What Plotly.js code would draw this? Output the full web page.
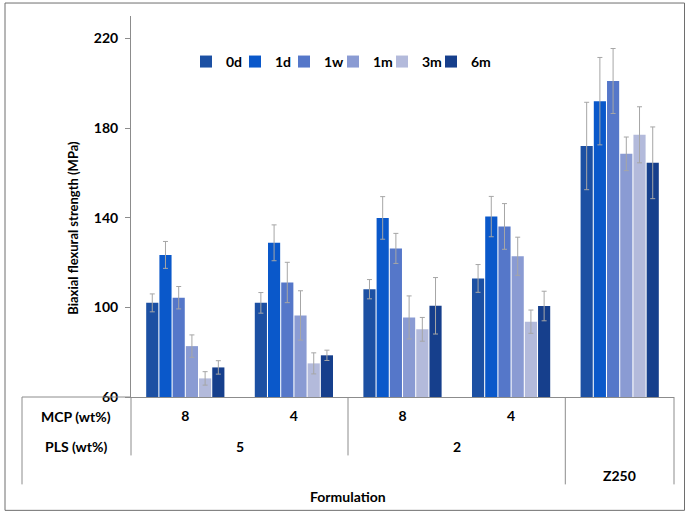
<!DOCTYPE html>
<html>
<head>
<meta charset="utf-8">
<script src="https://cdn.plot.ly/plotly-3.0.1.min.js"></script>
<style>html,body{margin:0;padding:0;background:#fff;}#chart{width:688px;height:516px;}</style>
</head>
<body>
<div id="chart"></div>
<script>
// ---- data ----
var categories = ['8 / 5', '4 / 5', '8 / 2', '4 / 2', 'Z250'];
var mcpLabels = ['8', '4', '8', '4', ''];
var plsLabels = ['5', '2'];
var seriesNames = ['0d', '1d', '1w', '1m', '3m', '6m'];
var v0d = [102.0, 102.0, 108.1, 112.9, 172.0];
var v1d = [123.4, 128.8, 139.9, 140.5, 192.0];
var v1w = [104.3, 111.1, 126.3, 136.1, 201.0];
var v1m = [82.7, 96.4, 95.5, 122.8, 168.5];
var v3m = [68.3, 75.0, 90.2, 93.6, 177.0];
var v6m = [73.2, 78.6, 100.7, 100.6, 164.5];
var e0d = [4.0, 4.6, 4.3, 6.2, 19.5];
var e1d = [6.0, 8.0, 9.5, 9.0, 19.5];
var e1w = [5.0, 9.0, 6.7, 10.2, 14.5];
var e1m = [5.0, 11.0, 9.6, 8.5, 7.5];
var e3m = [3.0, 4.7, 5.3, 5.2, 12.5];
var e6m = [3.0, 2.3, 12.6, 6.6, 16.0];
var yTicks = [60, 100, 140, 180, 220];

var values = [v0d, v1d, v1w, v1m, v3m, v6m];
var errors = [e0d, e1d, e1w, e1m, e3m, e6m];
var colors = ['#1C50A3', '#0A58CA', '#5577C9', '#8A9BD3', '#B3BADB', '#163F8C'];

var FONT = 'Lato, "Open Sans", "Liberation Sans", sans-serif';

function legendId(i) { return i === 0 ? 'legend' : 'legend' + (i + 1); }

var traces = seriesNames.map(function (name, i) {
  return {
    type: 'bar',
    name: name,
    x: categories,
    y: values[i].map(function (v) { return v - 60; }),
    base: 60,
    marker: { color: colors[i] },
    error_y: { type: 'data', array: errors[i], visible: true, color: '#A6A6A6', thickness: 1, width: 2.5 },
    legend: legendId(i),
    hoverinfo: 'name+y'
  };
});

// pixel helpers for the table frame (paper coords)
var L = 131, R = 674, T = 16, B = 397.5;
function px(x) { return (x - L) / (R - L); }
function py(y) { return (B - y) / (B - T); }

var lineStyle = { color: '#8C8C8C', width: 1 };
function seg(x0, y0, x1, y1, st) {
  return { type: 'line', xref: 'paper', yref: 'paper', x0: px(x0), y0: py(y0), x1: px(x1), y1: py(y1), line: st || lineStyle };
}

var shapes = [
  seg(22, B, 131, B),
  seg(22, B, 22, 485),
  seg(131, B, 131, 456),
  seg(348, B, 348, 456),
  seg(565.3, B, 565.3, 485),
  seg(674, B, 674, 485),
  { type: 'rect', xref: 'paper', yref: 'paper', x0: px(5), y0: py(3), x1: px(684.5), y1: py(511), line: { color: '#6E6E6E', width: 1 }, fillcolor: 'rgba(0,0,0,0)' }
];

function ann(text, x, y, extra) {
  var a = { text: text, xref: 'paper', yref: 'paper', x: px(x), y: py(y), xanchor: 'center', yanchor: 'middle', showarrow: false, font: { family: FONT, size: 14, color: '#000', weight: 'bold' } };
  for (var k in extra) a[k] = extra[k];
  return a;
}

var annotations = [
  ann('MCP (wt%)', 76, 417),
  ann('PLS (wt%)', 76, 447),
  ann(plsLabels[0], 239.6, 447),
  ann(plsLabels[1], 456.8, 447),
  ann(categories[4], 619.7, 476),
  ann('Formulation', 348, 497),
  ann('Biaxial flexural strength (MPa)', 73, 228, { textangle: -90, font: { family: FONT, size: 13, color: '#000', weight: 'bold' } })
];

var legX = 186, legStep = 49;
var legFont = { family: FONT, size: 14, color: '#000', weight: 'bold' };

var layout = {
  width: 688, height: 516,
  margin: { l: L, r: 688 - R, t: T, b: 516 - B },
  paper_bgcolor: '#fff', plot_bgcolor: '#fff',
  barmode: 'group', bargap: 0.27, bargroupgap: 0.08,
  font: { family: FONT, size: 14, color: '#000' },
  showlegend: true,
  xaxis: {
    type: 'category', categoryorder: 'array', categoryarray: categories,
    tickvals: categories, ticktext: mcpLabels,
    showline: true, linecolor: '#8C8C8C', linewidth: 1,
    ticks: '', showgrid: false, zeroline: false, fixedrange: true,
    ticklabelstandoff: 6,
    tickfont: { family: FONT, size: 14, color: '#000', weight: 'bold' }
  },
  yaxis: {
    range: [60, 230], tickvals: yTicks, ticktext: yTicks.map(String),
    showline: true, linecolor: '#8C8C8C', linewidth: 1,
    ticks: 'outside', ticklen: 5, tickcolor: '#8C8C8C',
    showgrid: false, zeroline: false, fixedrange: true,
    ticklabelstandoff: 4,
    tickfont: { family: FONT, size: 14, color: '#000', weight: 'bold' }
  },
  shapes: shapes,
  annotations: annotations
};

seriesNames.forEach(function (name, i) {
  layout[legendId(i)] = {
    orientation: 'h', x: px(legX + i * legStep), xanchor: 'left', y: py(62), yanchor: 'middle',
    font: legFont, bgcolor: 'rgba(0,0,0,0)'
  };
});

Plotly.newPlot('chart', traces, layout, { displayModeBar: false, staticPlot: true });
</script>
</body>
</html>
